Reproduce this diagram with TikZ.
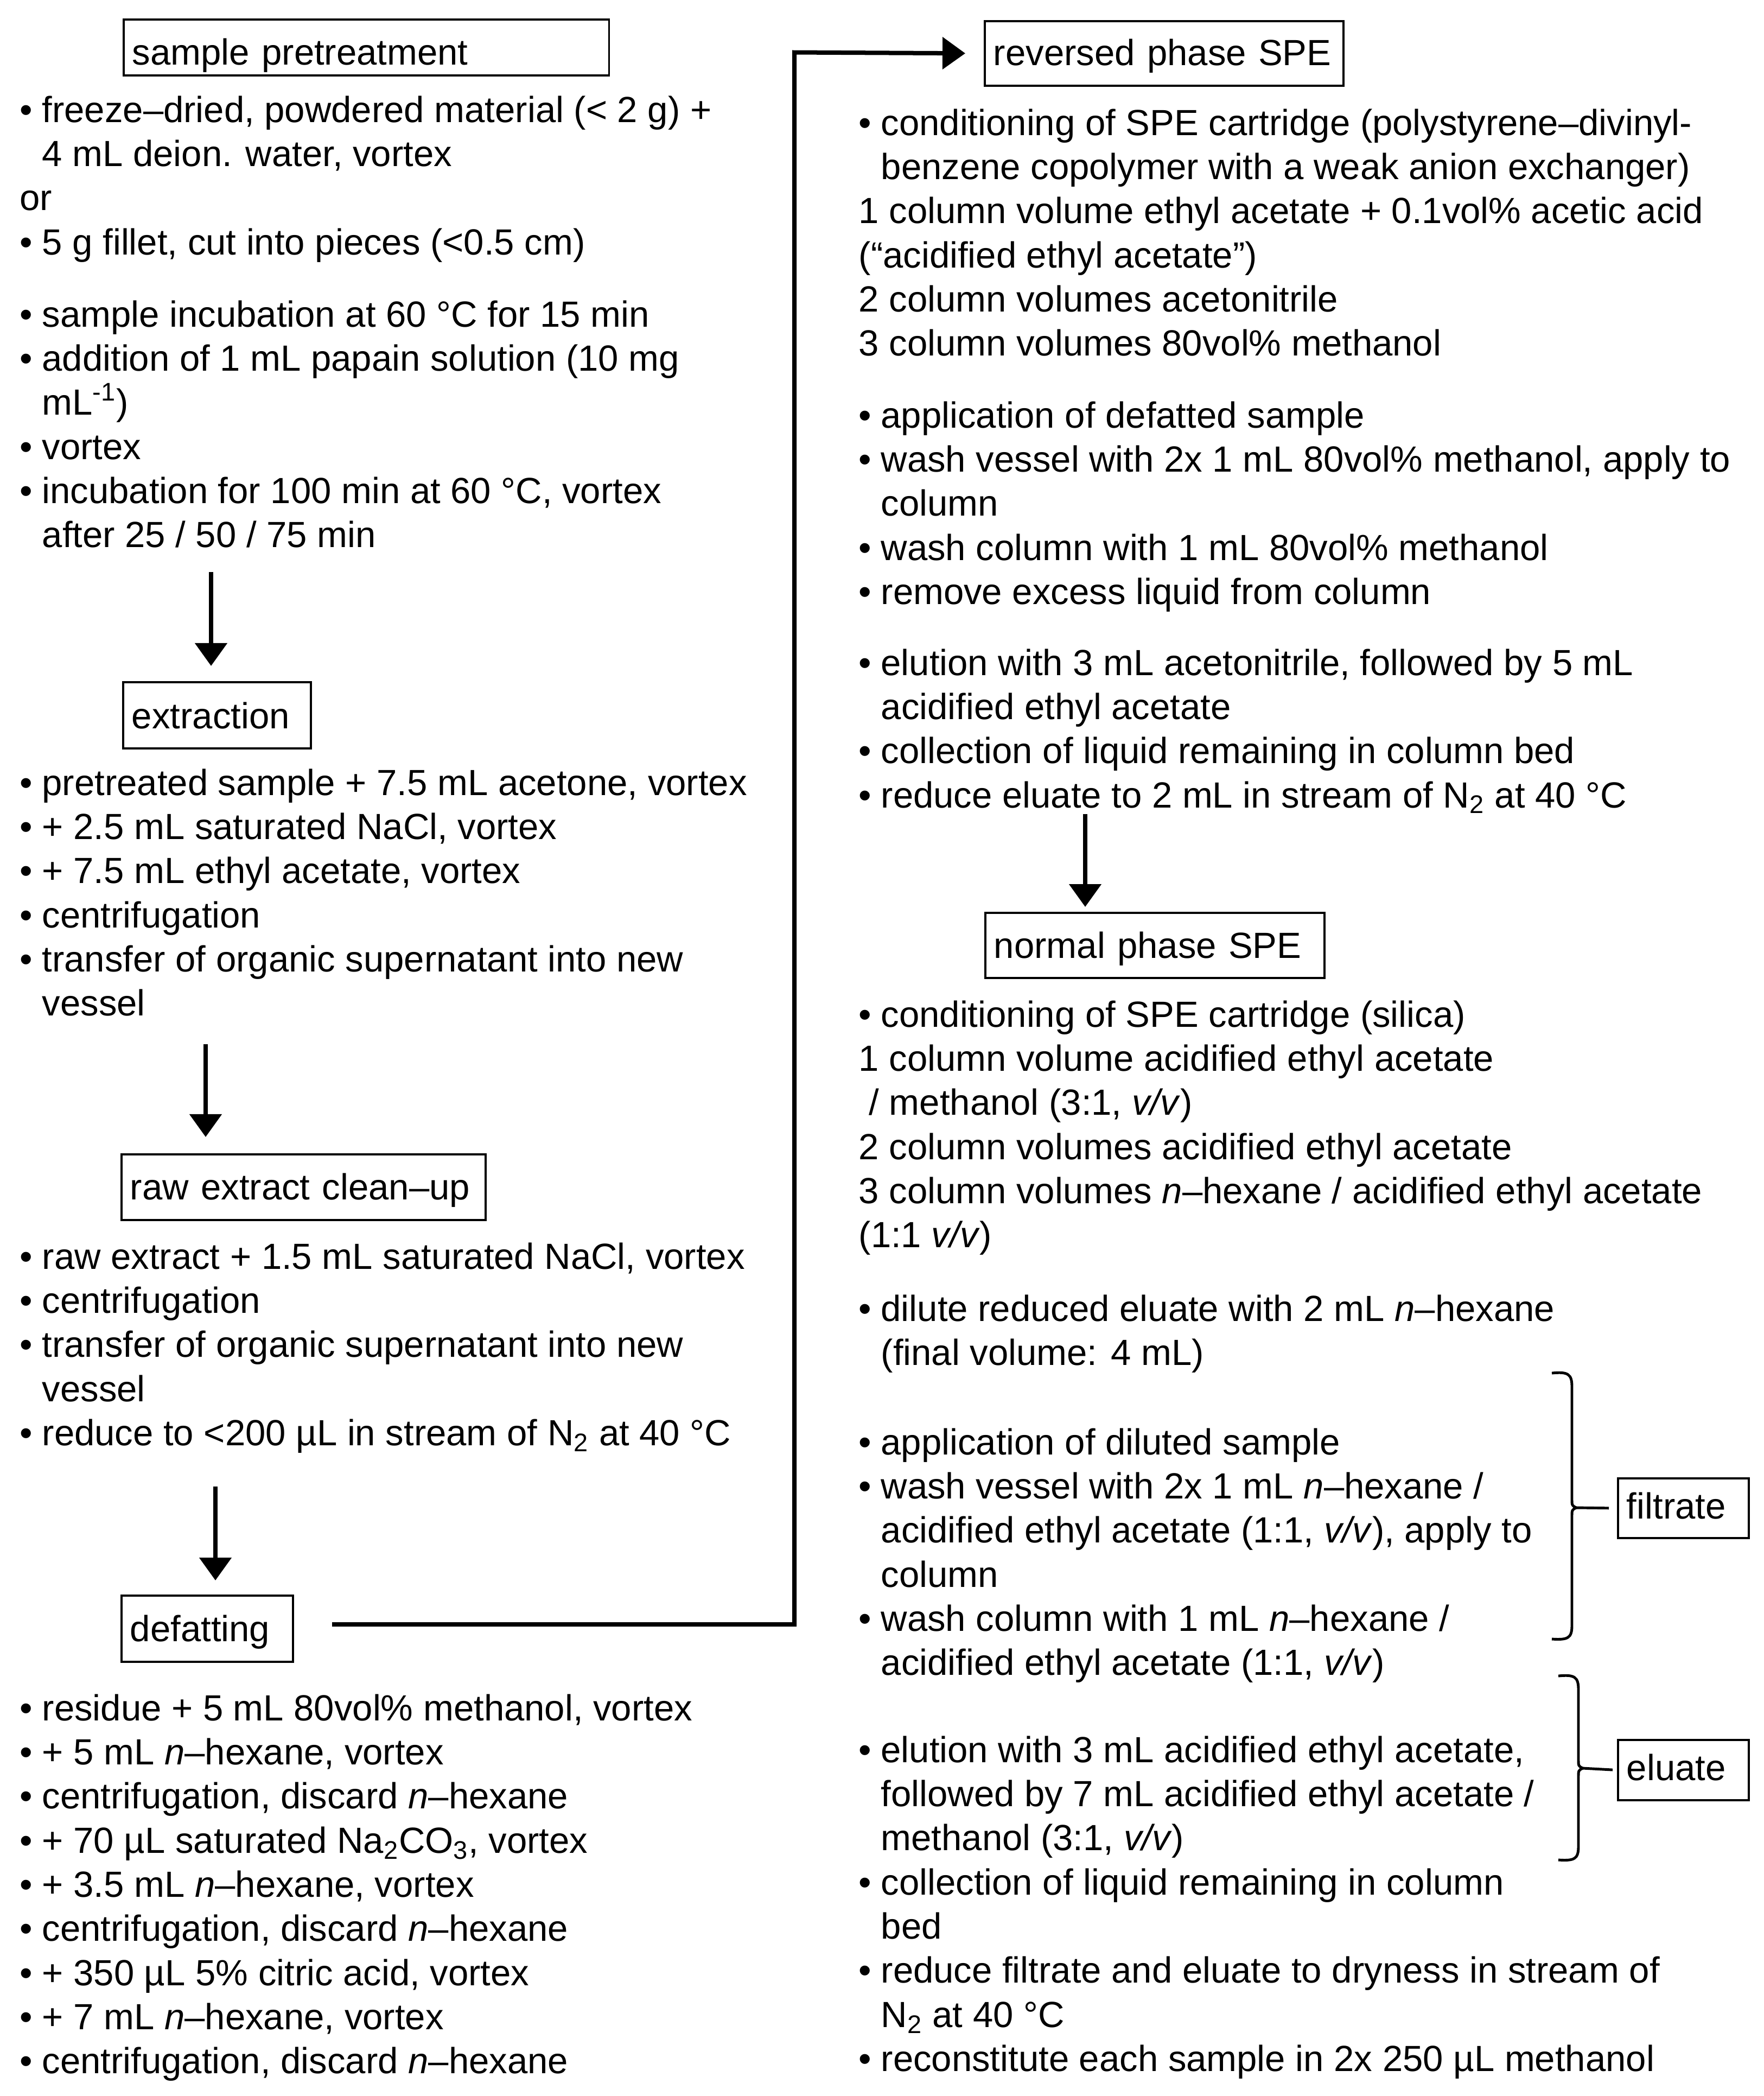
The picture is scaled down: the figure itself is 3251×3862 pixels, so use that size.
\documentclass[tikz,border=0pt]{standalone}
\usepackage{fontspec}
\setmainfont{Liberation Sans}
\usetikzlibrary{arrows.meta}
\newcommand\bl{\makebox[0.41cm][l]{•}}
\newcommand\ind{\hspace*{0.41cm}}
\newcommand\fsz{\fontsize{19.07pt}{23.13pt}\selectfont}
\newcommand\blkL[1]{\parbox[t]{15cm}{\raggedright #1}}
\newcommand\blkR[1]{\parbox[t]{16.6cm}{\raggedright #1}}
\begin{document}
\begin{tikzpicture}[x=0.01cm,y=-0.01cm,
  every node/.style={font=\fsz},
  blk/.style={anchor=base west, inner sep=0pt},
  box/.style={draw, line width=1.1pt, anchor=north west, inner xsep=0.16cm, inner ysep=0pt, align=left},
  arr/.style={line width=0.08cm, -{Triangle[width=0.58cm,length=0.42cm]}},
  brace/.style={line width=1.4pt}]
\useasboundingbox (0,0) rectangle (3251,3862);

% ---------------- boxes ----------------
\node[box, text width=8.62cm, text height=0.84cm, text depth=0.19cm] (pre) at (226,34) {sample pretreatment};
\node[box, text width=3.14cm, text height=0.85cm, text depth=0.37cm] (ext) at (225,1255) {extraction};
\node[box, text width=6.39cm, text height=0.83cm, text depth=0.38cm] (raw) at (222,2125) {raw extract clean–up};
\node[box, text width=2.84cm, text height=0.84cm, text depth=0.38cm] (def) at (222,2938) {defatting};
\node[box, text width=6.29cm, text height=0.82cm, text depth=0.37cm] (rev) at (1813,37) {reversed phase SPE};
\node[box, text width=5.93cm, text height=0.83cm, text depth=0.37cm] (norm) at (1814,1680) {normal phase SPE};
\node[box, text width=2.09cm, text height=0.74cm, text depth=0.36cm] (filt) at (2980,2722) {filtrate};
\node[box, text width=2.09cm, text height=0.74cm, text depth=0.37cm] (elu) at (2980,3204) {eluate};

% ---------------- left column text ----------------
\node[blk] (b1) at (36,225) {\blkL{%
\bl freeze–dried, powdered material (< 2 g) +\\
\ind 4 mL deion. water, vortex\\
or\\
\bl 5 g fillet, cut into pieces (<0.5 cm)}};

\node[blk] (b2) at (36,602) {\blkL{%
\bl sample incubation at 60 °C for 15 min\\
\bl addition of 1 mL papain solution (10 mg\\
\ind mL\textsuperscript{-1})\\
\bl vortex\\
\bl incubation for 100 min at 60 °C, vortex\\
\ind after 25 / 50 / 75 min}};

\node[blk] (b3) at (36,1465) {\blkL{%
\bl pretreated sample + 7.5 mL acetone, vortex\\
\bl + 2.5 mL saturated NaCl, vortex\\
\bl + 7.5 mL ethyl acetate, vortex\\
\bl centrifugation\\
\bl transfer of organic supernatant into new\\
\ind vessel}};

\node[blk] (b4) at (36,2338) {\blkL{%
\bl raw extract + 1.5 mL saturated NaCl, vortex\\
\bl centrifugation\\
\bl transfer of organic supernatant into new\\
\ind vessel\\
\bl reduce to <200 µL in stream of N\textsubscript{2} at 40 °C}};

\node[blk] (b5) at (36,3170) {\blkL{%
\bl residue + 5 mL 80vol\% methanol, vortex\\
\bl + 5 mL \textit{n}–hexane, vortex\\
\bl centrifugation, discard \textit{n}–hexane\\
\bl + 70 µL saturated Na\textsubscript{2}CO\textsubscript{3}, vortex\\
\bl + 3.5 mL \textit{n}–hexane, vortex\\
\bl centrifugation, discard \textit{n}–hexane\\
\bl + 350 µL 5\% citric acid, vortex\\
\bl + 7 mL \textit{n}–hexane, vortex\\
\bl centrifugation, discard \textit{n}–hexane}};

% ---------------- right column text ----------------
\node[blk] (r1) at (1582,249) {\blkR{%
\bl conditioning of SPE cartridge (polystyrene–divinyl-\\
\ind benzene copolymer with a weak anion exchanger)\\
1 column volume ethyl acetate + 0.1vol\% acetic acid\\
(“acidified ethyl acetate”)\\
2 column volumes acetonitrile\\
3 column volumes 80vol\% methanol}};

\node[blk] (r2) at (1582,788) {\blkR{%
\bl application of defatted sample\\
\bl wash vessel with 2x 1 mL 80vol\% methanol, apply to\\
\ind column\\
\bl wash column with 1 mL 80vol\% methanol\\
\bl remove excess liquid from column}};

\node[blk] (r3) at (1582,1244) {\blkR{%
\bl elution with 3 mL acetonitrile, followed by 5 mL\\
\ind acidified ethyl acetate\\
\bl collection of liquid remaining in column bed\\
\bl reduce eluate to 2 mL in stream of N\textsubscript{2} at 40 °C}};

\node[blk] (r4) at (1582,1892) {\blkR{%
\bl conditioning of SPE cartridge (silica)\\
1 column volume acidified ethyl acetate\\
\hspace*{0.19cm}/ methanol (3:1, \textit{v/v})\\
2 column volumes acidified ethyl acetate\\
3 column volumes \textit{n}–hexane / acidified ethyl acetate\\
(1:1 \textit{v/v})}};

\node[blk] (r5) at (1582,2434) {\blkR{%
\bl dilute reduced eluate with 2 mL \textit{n}–hexane\\
\ind (final volume: 4 mL)}};

\node[blk] (r6) at (1582,2680) {\blkR{%
\bl application of diluted sample\\
\bl wash vessel with 2x 1 mL \textit{n}–hexane /\\
\ind acidified ethyl acetate (1:1, \textit{v/v}), apply to\\
\ind column\\
\bl wash column with 1 mL \textit{n}–hexane /\\
\ind acidified ethyl acetate (1:1, \textit{v/v})}};

\node[blk] (r7) at (1582,3247) {\blkR{%
\bl elution with 3 mL acidified ethyl acetate,\\
\ind followed by 7 mL acidified ethyl acetate /\\
\ind methanol (3:1, \textit{v/v})\\
\bl collection of liquid remaining in column\\
\ind bed\\
\bl reduce filtrate and eluate to dryness in stream of\\
\ind N\textsubscript{2} at 40 °C\\
\bl reconstitute each sample in 2x 250 µL methanol}};

% ---------------- arrows ----------------
\coordinate (a1) at (389,1054);
\coordinate (a2) at (379,1924);
\coordinate (a3) at (397,2739);
\coordinate (a4) at (2000,1500);
\draw[arr, shorten >=0.28cm] (a1) -- (a1 |- ext.north);
\draw[arr, shorten >=0.30cm] (a2) -- (a2 |- raw.north);
\draw[arr, shorten >=0.26cm] (a3) -- (a3 |- def.north);
\draw[arr, shorten >=0.09cm] (a4) -- (a4 |- norm.north);

\coordinate (ds) at (612,2993);
\coordinate (cr) at (1464,96.5);
\draw[arr, shorten >=0.34cm] (ds) -| (cr) -- (rev.west);

% ---------------- braces ----------------
\draw[brace] (2860,2530) .. controls (2890,2527) and (2897,2532) .. (2897,2555) -- (2897,2762)
  .. controls (2897,2774) .. (2905,2778) .. controls (2897,2782) .. (2897,2794) -- (2897,2995)
  .. controls (2897,3018) and (2890,3022) .. (2860,3020);
\coordinate (ftip) at (2905,2778);
\draw[brace, shorten >=0.15cm] (ftip) -- (filt.west);

\draw[brace] (2872,3088) .. controls (2902,3085) and (2909,3090) .. (2909,3113) -- (2909,3242)
  .. controls (2909,3254) .. (2917,3258) .. controls (2909,3262) .. (2909,3274) -- (2909,3402)
  .. controls (2909,3425) and (2902,3429) .. (2872,3427);
\coordinate (etip) at (2917,3258);
\draw[brace, shorten >=0.08cm] (etip) -- (elu.west);
\end{tikzpicture}
\end{document}
